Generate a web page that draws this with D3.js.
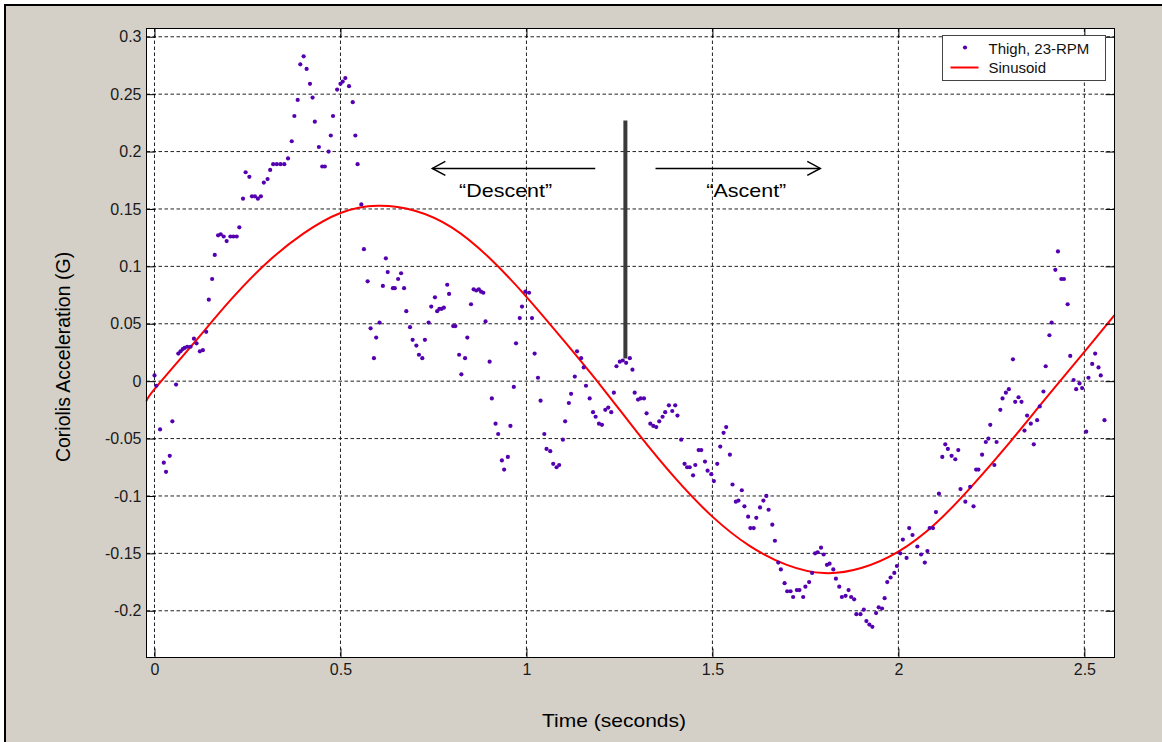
<!DOCTYPE html>
<html>
<head>
<meta charset="utf-8">
<script src="https://cdn.jsdelivr.net/npm/d3@7/dist/d3.min.js"></script>
<style>
body { margin: 0; background: #fff; }
text { font-family: "Liberation Sans", Arial, sans-serif; }
</style>
</head>
<body>
<script>
var width = 1162;
var height = 742;
var margin = {top: 28, right: 48, bottom: 85, left: 146};
var w = width - margin.left - margin.right;
var h = height - margin.top - margin.bottom;

// measured samples, Thigh 23-RPM
var time = [0.000,0.005,0.015,0.025,0.031,0.041,0.048,0.058,0.064,0.070,0.076,0.081,0.088,0.097,0.106,0.113,0.122,0.130,0.139,0.146,
  0.155,0.162,0.171,0.178,0.186,0.194,0.204,0.212,0.221,0.228,0.238,0.245,0.255,0.262,0.270,0.278,0.286,0.294,0.304,0.311,
  0.319,0.329,0.339,0.349,0.359,0.369,0.376,0.385,0.392,0.401,0.409,0.418,0.425,0.431,0.442,0.451,0.458,0.468,0.474,0.480,
  0.491,0.500,0.506,0.513,0.523,0.533,0.540,0.546,0.556,0.563,0.573,0.581,0.590,0.596,0.605,0.614,0.622,0.627,0.641,0.646,
  0.655,0.663,0.671,0.677,0.687,0.694,0.704,0.711,0.720,0.727,0.737,0.744,0.754,0.760,0.766,0.772,0.778,0.787,0.792,0.803,
  0.809,0.819,0.825,0.835,0.841,0.851,0.858,0.865,0.872,0.878,0.884,0.890,0.901,0.907,0.917,0.924,0.934,0.940,0.950,0.957,
  0.966,0.972,0.982,0.988,0.997,1.007,1.015,1.022,1.031,1.038,1.048,1.054,1.064,1.072,1.081,1.088,1.098,1.104,1.114,1.120,
  1.130,1.136,1.147,1.154,1.160,1.170,1.179,1.186,1.195,1.203,1.212,1.220,1.228,1.235,1.242,1.251,1.259,1.268,1.278,1.285,
  1.291,1.300,1.307,1.316,1.323,1.333,1.341,1.349,1.357,1.366,1.373,1.383,1.392,1.400,1.406,1.416,1.425,1.432,1.439,1.448,
  1.454,1.463,1.470,1.480,1.487,1.497,1.504,1.513,1.521,1.530,1.537,1.547,1.554,1.563,1.570,1.579,1.586,1.596,1.602,1.611,
  1.618,1.628,1.637,1.645,1.651,1.661,1.668,1.677,1.684,1.694,1.701,1.710,1.717,1.727,1.734,1.744,1.750,1.760,1.768,1.776,
  1.783,1.792,1.799,1.808,1.815,1.825,1.832,1.841,1.848,1.858,1.866,1.873,1.881,1.887,1.898,1.907,1.914,1.922,1.930,1.940,
  1.947,1.956,1.963,1.970,1.979,1.989,1.996,2.005,2.012,2.022,2.029,2.038,2.051,2.061,2.071,2.078,2.084,2.093,2.101,2.109,
  2.118,2.126,2.133,2.143,2.153,2.161,2.167,2.180,2.193,2.202,2.209,2.215,2.225,2.235,2.242,2.247,2.258,2.264,2.274,2.280,
  2.289,2.297,2.308,2.314,2.323,2.331,2.339,2.346,2.356,2.364,2.373,2.380,2.390,2.396,2.406,2.412,2.422,2.429,2.438,2.445,
  2.455,2.462,2.471,2.478,2.487,2.494,2.505,2.511,2.521,2.529,2.538,2.544,2.554];
var accel = [0.005,-0.004,-0.042,-0.071,-0.079,-0.065,-0.035,-0.003,0.024,0.026,0.028,0.029,0.030,0.030,0.037,0.033,0.026,0.027,0.043,0.071,
  0.089,0.110,0.127,0.128,0.126,0.122,0.126,0.126,0.126,0.134,0.159,0.182,0.178,0.161,0.161,0.159,0.161,0.173,0.176,0.184,
  0.189,0.189,0.189,0.189,0.194,0.209,0.231,0.245,0.276,0.283,0.272,0.259,0.247,0.226,0.204,0.187,0.187,0.200,0.214,0.231,
  0.254,0.259,0.261,0.264,0.257,0.243,0.214,0.189,0.154,0.115,0.087,0.046,0.020,0.038,0.051,0.083,0.107,0.095,0.081,0.081,
  0.089,0.094,0.081,0.061,0.047,0.036,0.031,0.023,0.020,0.036,0.051,0.065,0.073,0.061,0.063,0.063,0.064,0.084,0.076,0.048,
  0.048,0.023,0.006,0.020,0.038,0.067,0.080,0.079,0.080,0.078,0.077,0.052,0.017,-0.015,-0.037,-0.046,-0.069,-0.077,-0.066,-0.039,
  -0.005,0.033,0.055,0.065,0.078,0.077,0.055,0.024,0.003,-0.017,-0.046,-0.059,-0.061,-0.072,-0.075,-0.073,-0.051,-0.035,-0.019,-0.011,
  0.004,0.026,0.020,0.012,-0.004,-0.015,-0.027,-0.031,-0.037,-0.038,-0.025,-0.023,-0.027,-0.010,0.013,0.017,0.018,0.016,0.020,0.010,
  -0.010,-0.016,-0.015,-0.015,-0.028,-0.037,-0.039,-0.040,-0.035,-0.031,-0.027,-0.021,-0.026,-0.021,-0.030,-0.051,-0.072,-0.075,-0.075,-0.082,
  -0.073,-0.060,-0.060,-0.070,-0.078,-0.081,-0.087,-0.072,-0.057,-0.045,-0.040,-0.064,-0.090,-0.105,-0.104,-0.095,-0.109,-0.118,-0.128,-0.128,
  -0.119,-0.110,-0.104,-0.100,-0.112,-0.125,-0.139,-0.158,-0.164,-0.176,-0.183,-0.183,-0.188,-0.182,-0.182,-0.188,-0.179,-0.175,-0.167,-0.150,
  -0.149,-0.145,-0.151,-0.160,-0.159,-0.164,-0.172,-0.179,-0.188,-0.187,-0.182,-0.188,-0.190,-0.203,-0.203,-0.199,-0.209,-0.212,-0.214,-0.202,
  -0.197,-0.198,-0.189,-0.175,-0.171,-0.167,-0.161,-0.150,-0.138,-0.154,-0.128,-0.134,-0.144,-0.151,-0.158,-0.148,-0.128,-0.128,-0.114,-0.098,
  -0.066,-0.055,-0.059,-0.065,-0.068,-0.060,-0.094,-0.105,-0.092,-0.109,-0.077,-0.077,-0.064,-0.053,-0.050,-0.038,-0.073,-0.053,-0.025,-0.015,
  -0.010,-0.007,0.019,-0.018,-0.014,-0.018,-0.043,-0.030,-0.037,-0.055,-0.034,-0.022,-0.009,0.013,0.040,0.051,0.097,0.113,0.089,0.089,
  0.067,0.022,0.001,-0.007,-0.002,-0.006,-0.044,0.003,0.015,0.024,0.012,0.005,-0.034];

// sinusoid fit
var sineTime = [-0.0215,0,0.1,0.2,0.3,0.4,0.5,0.6,0.7,0.8,0.9,1.0,1.1,1.2,1.3,1.4,1.5,1.6,1.7,1.8,1.9,2.0,2.1,2.2,2.3,2.4,2.5,2.581];
var sineAccel = [-0.0175,-0.007,0.031,0.069,0.1025,0.1285,0.1465,0.1528,0.1485,0.1338,0.1075,0.0735,0.0355,-0.004,-0.0455,-0.0845,-0.118,-0.1435,-0.160,-0.1672,-0.1628,-0.1485,-0.124,-0.0905,-0.053,-0.0135,0.0255,0.0575];

var seriesNames = ["Thigh, 23-RPM", "Sinusoid"];
var xTicks = [0, 0.5, 1, 1.5, 2, 2.5];
var xTickLabels = ["0", "0.5", "1", "1.5", "2", "2.5"];
var yTicks = [0.3, 0.25, 0.2, 0.15, 0.1, 0.05, 0, -0.05, -0.1, -0.15, -0.2];
var yTickLabels = ["0.3", "0.25", "0.2", "0.15", "0.1", "0.05", "0", "-0.05", "-0.1", "-0.15", "-0.2"];

// annotation positions in data units
var divider = {t: 1.266, from: 0.0198, to: 0.227};
var arrows = [
  {label: "\u201cDescent\u201d", from: 1.185, to: 0.747, textT: 0.944, len: 93},
  {label: "\u201cAscent\u201d", from: 1.347, to: 1.790, textT: 1.591, len: 80}
];
var arrowLevel = 0.1853;
var labelLevel = 0.160;

var x = d3.scaleLinear().domain([-0.0215, 2.581]).range([0, w]);
var y = d3.scaleLinear().domain([-0.2407, 0.3072]).range([h, 0]);

var root = d3.select("body").append("svg")
  .attr("width", width)
  .attr("height", height);

root.append("rect")
  .attr("width", width).attr("height", height)
  .attr("fill", "#fff");
root.append("rect")
  .attr("x", 5).attr("y", 5)
  .attr("width", width).attr("height", height)
  .attr("fill", "#d4d0c8")
  .attr("stroke", "#000")
  .attr("stroke-width", 2);

var svg = root.append("g")
  .attr("transform", "translate(" + (margin.left + 0.5) + "," + (margin.top + 0.5) + ")");

svg.append("rect")
  .attr("width", w).attr("height", h)
  .attr("fill", "#fff");

// grid
svg.append("g").selectAll("line")
  .data(xTicks)
  .enter().append("line")
  .attr("x1", function(d) { return x(d); })
  .attr("x2", function(d) { return x(d); })
  .attr("y1", 0).attr("y2", h)
  .attr("stroke", "#222")
  .attr("stroke-dasharray", "3.5,2.5");
svg.append("g").selectAll("line")
  .data(yTicks)
  .enter().append("line")
  .attr("y1", function(d) { return y(d); })
  .attr("y2", function(d) { return y(d); })
  .attr("x1", 0).attr("x2", w)
  .attr("stroke", "#222")
  .attr("stroke-dasharray", "3.5,2.5");

// sinusoid
var sine = sineTime.map(function(t, i) { return [t, sineAccel[i]]; });
var line = d3.line()
  .x(function(d) { return x(d[0]); })
  .y(function(d) { return y(d[1]); })
  .curve(d3.curveNatural);

svg.append("path")
  .datum(sine)
  .attr("fill", "none")
  .attr("stroke", "#ff0000")
  .attr("stroke-width", 2)
  .attr("d", line);

// points
var pts = time.map(function(t, i) { return [t, accel[i]]; });
svg.append("g").selectAll("circle")
  .data(pts)
  .enter().append("circle")
  .attr("cx", function(d) { return x(d[0]); })
  .attr("cy", function(d) { return y(d[1]); })
  .attr("r", 2.1)
  .attr("fill", "#5500b0");

// annotations
svg.append("line")
  .attr("x1", x(divider.t)).attr("x2", x(divider.t))
  .attr("y1", y(divider.from)).attr("y2", y(divider.to))
  .attr("stroke", "#3a3a3a")
  .attr("stroke-width", 4);

arrows.forEach(function(a) {
  var dir = a.to < a.from ? 1 : -1;
  var tip = x(a.to), ay = y(arrowLevel);
  svg.append("line")
    .attr("x1", x(a.from)).attr("x2", tip)
    .attr("y1", ay).attr("y2", ay)
    .attr("stroke", "#000").attr("stroke-width", 1.5);
  svg.append("path")
    .attr("d", "M" + (tip + dir * 13) + "," + (ay - 7) + "L" + tip + "," + ay + "L" + (tip + dir * 13) + "," + (ay + 7))
    .attr("fill", "none")
    .attr("stroke", "#000").attr("stroke-width", 1.5);
  svg.append("text")
    .attr("x", x(a.textT)).attr("y", y(labelLevel))
    .attr("text-anchor", "middle")
    .attr("font-size", 19)
    .attr("textLength", a.len)
    .attr("lengthAdjust", "spacingAndGlyphs")
    .text(a.label);
});

// axes, MATLAB style ticks inside
function styleAxis(g) {
  g.select(".domain").remove();
  g.selectAll(".tick line").attr("stroke", "#000");
  g.selectAll("text")
    .attr("font-family", "'Liberation Sans', Arial, sans-serif")
    .attr("font-size", 16)
    .attr("fill", "#1a1a1a");
}

svg.append("g")
  .call(d3.axisLeft(y).tickValues(yTicks)
    .tickFormat(function(d, i) { return yTickLabels[i]; })
    .tickSize(-9).tickPadding(5))
  .call(styleAxis);
svg.append("g")
  .attr("transform", "translate(" + w + ",0)")
  .call(d3.axisRight(y).tickValues(yTicks).tickFormat("").tickSize(-9))
  .call(styleAxis);
svg.append("g")
  .attr("transform", "translate(0," + h + ")")
  .call(d3.axisBottom(x).tickValues(xTicks)
    .tickFormat(function(d, i) { return xTickLabels[i]; })
    .tickSize(-9).tickPadding(6))
  .call(styleAxis);
svg.append("g")
  .call(d3.axisTop(x).tickValues(xTicks).tickFormat("").tickSize(-9))
  .call(styleAxis);

svg.append("rect")
  .attr("width", w).attr("height", h)
  .attr("fill", "none")
  .attr("stroke", "#000");

// axis titles
root.append("text")
  .attr("x", 614).attr("y", 727)
  .attr("text-anchor", "middle")
  .attr("font-size", 19)
  .attr("textLength", 144)
  .attr("lengthAdjust", "spacingAndGlyphs")
  .text("Time (seconds)");

root.append("text")
  .attr("transform", "translate(70,357) rotate(-90)")
  .attr("text-anchor", "middle")
  .attr("font-size", 19.5)
  .text("Coriolis Acceleration (G)");

// legend
var legend = root.append("g").attr("transform", "translate(942.5,35.5)");
legend.append("rect")
  .attr("width", 163).attr("height", 45)
  .attr("fill", "#fff")
  .attr("stroke", "#444");
legend.append("circle")
  .attr("cx", 22.5).attr("cy", 12)
  .attr("r", 2.1)
  .attr("fill", "#5500b0");
legend.append("line")
  .attr("x1", 8).attr("x2", 36)
  .attr("y1", 32).attr("y2", 32)
  .attr("stroke", "#ff0000").attr("stroke-width", 2);
legend.selectAll("text.lab")
  .data(seriesNames)
  .enter().append("text")
  .attr("class", "lab")
  .attr("x", 46)
  .attr("y", function(d, i) { return 18 + i * 19.5; })
  .attr("font-size", 15)
  .attr("fill", "#111")
  .text(function(d) { return d; });
</script>
</body>
</html>
